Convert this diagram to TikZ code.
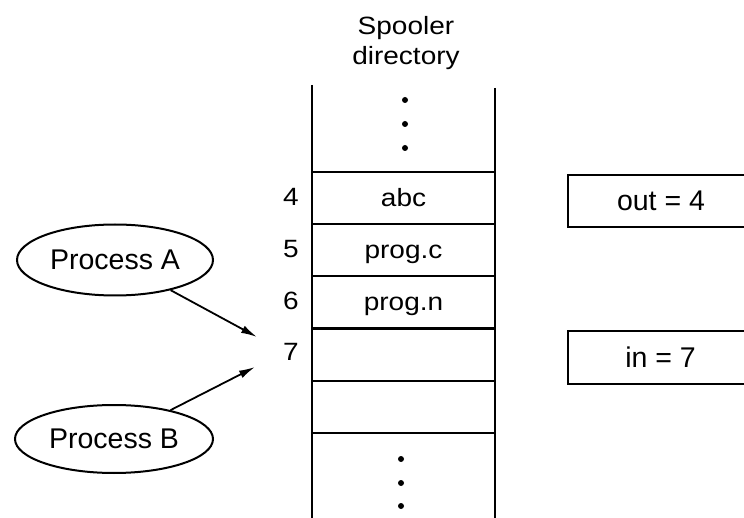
\documentclass[tikz,border=0pt]{standalone}
\usepackage{fontspec}
\setmainfont{Liberation Sans}
\newfontfamily\cellf[FakeStretch=1.12]{Liberation Sans}
\usetikzlibrary{shapes.geometric,arrows.meta}
\tikzset{
  col/.style={line width=2.2pt},
  cellbox/.style={draw,line width=2.2pt,minimum width=183pt,minimum height=52.2pt,inner sep=0pt,outer sep=0pt},
  celltext/.style={anchor=base,font=\cellf\fontsize{25}{30}\selectfont,inner sep=0pt},
  proc/.style={ellipse,draw,line width=2pt,inner sep=0pt,font=\fontsize{28.5}{34}\selectfont},
  varbox/.style={draw,line width=2pt,inner sep=0pt,minimum width=186pt,minimum height=52pt,font=\fontsize{28.5}{34}\selectfont},
  dot/.style={circle,fill,inner sep=0pt,minimum size=6pt},
  arr/.style={line width=1.8pt,-{Latex[length=16pt,width=8pt]}}
}
\begin{document}
\begin{tikzpicture}[x=1pt,y=-1pt]
\clip (0,0) rectangle (744,518);
\fill[white] (0,0) rectangle (744,518);
% title
\node[celltext] (sp1) at (406,35) {Spooler};
\node[celltext] (sp2) at (406,65) {directory};
% cells
\node[cellbox] (c4) at (403.5,198.1) {};
\node[cellbox] (c5) at (403.5,250.3) {};
\node[cellbox] (c6) at (403.5,302.5) {};
\node[cellbox] (c7) at (403.5,354.7) {};
\node[cellbox] (c8) at (403.5,406.9) {};
\draw[col] (312,85) -- (c4.north west);
\draw[col] (495,88) -- (c4.north east);
\draw[col] (c8.south west) -- (312,518);
\draw[col] (c8.south east) -- (495,518);
% cell texts
\node[celltext] (t4) at ([yshift=-8pt]c4.center) {abc};
\node[celltext] (t5) at ([yshift=-8pt]c5.center) {prog.c};
\node[celltext] (t6) at ([yshift=-8pt]c6.center) {prog.n};
% slot numbers
\node[celltext] (n4) at (291,205.5) {4};
\node[celltext] (n5) at (291,257.5) {5};
\node[celltext] (n6) at (291,310) {6};
\node[celltext] (n7) at (291,361) {7};
% dots
\node[dot] (d1) at (405,100) {};
\node[dot] (d2) at (405,124) {};
\node[dot] (d3) at (405,148) {};
\node[dot] (d4) at (401,459) {};
\node[dot] (d5) at (401,483) {};
\node[dot] (d6) at (401,506) {};
% variables
\node[varbox] (out) at (661,201) {out = 4};
\node[varbox,minimum height=53pt] (in) at (660.5,357.5) {in = 7};
% processes
\node[proc,minimum width=196pt,minimum height=71pt] (pa) at (115,260) {Process A};
\node[proc,minimum width=198pt,minimum height=68pt] (pb) at (114,439) {Process B};
\coordinate (ta) at (257,337);
\coordinate (tb) at (255,367);
\draw[arr] (pa) -- (ta);
\draw[arr] (pb) -- (tb);
\end{tikzpicture}
\end{document}
